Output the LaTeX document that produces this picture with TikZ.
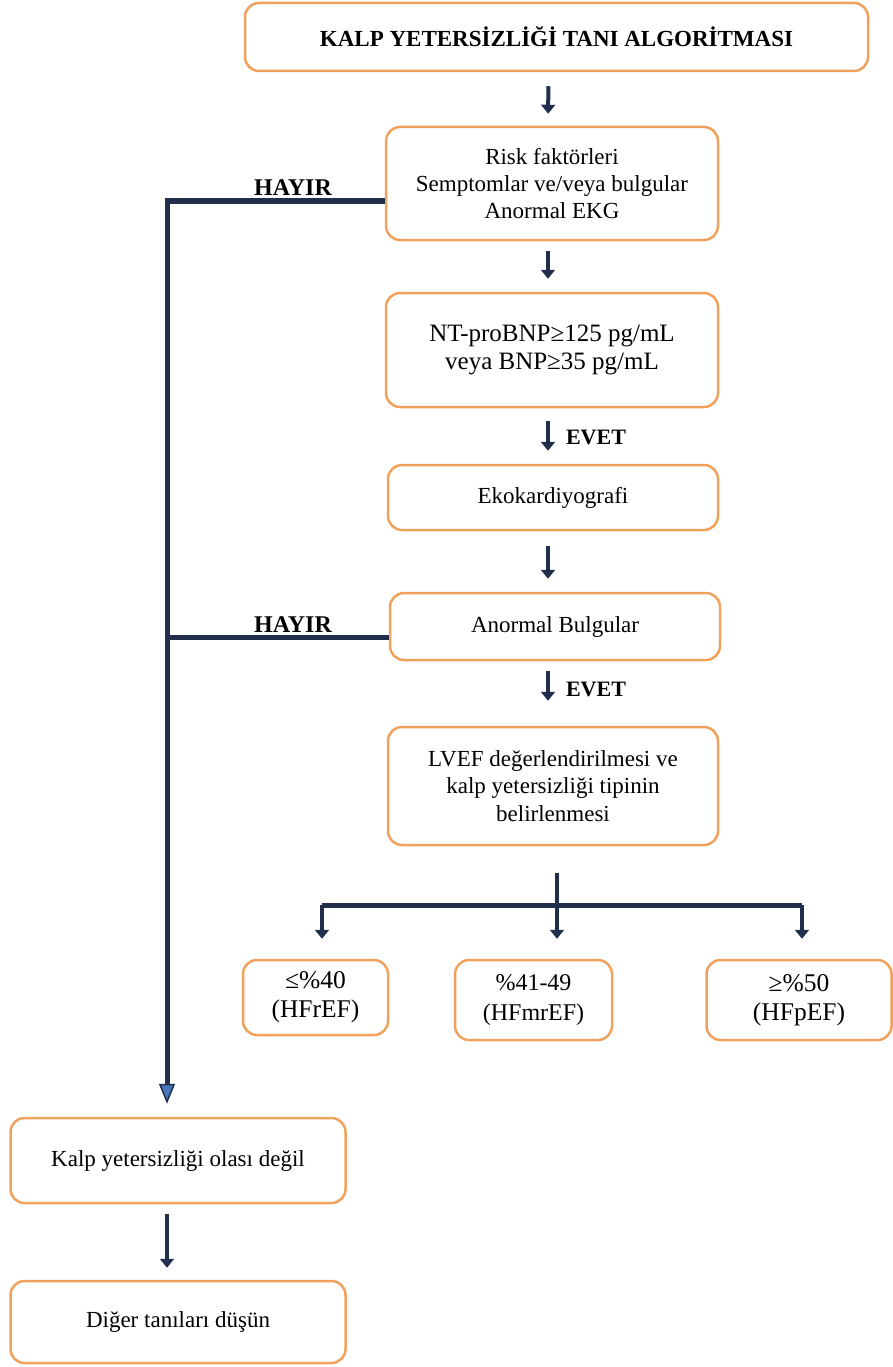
\documentclass[tikz,border=0pt]{standalone}
\usepackage{fontspec}
\setmainfont{Liberation Serif}
\usetikzlibrary{arrows.meta}
\definecolor{orng}{RGB}{240,162,92}
\definecolor{navy}{RGB}{33,47,77}
\definecolor{steel}{RGB}{70,120,185}
\begin{document}
\begin{tikzpicture}[x=1pt,y=-1pt,
  box/.style={draw=orng, line width=2.5pt, rounded corners=14pt, fill=white, align=center, inner sep=0pt, font=\fontsize{23}{27}\selectfont},
  bigtext/.style={font=\fontsize{25.5}{29}\selectfont},
  arr/.style={draw=navy, line width=4pt, -{Triangle[length=9pt,width=14pt]}},
  trunk/.style={draw=navy, line width=5pt},
  lbl/.style={font=\bfseries\fontsize{22}{24}\selectfont, inner sep=0pt}]
\useasboundingbox (0,0) rectangle (893,1367);
\node[box, minimum width=623pt, minimum height=68pt, font=\bfseries\fontsize{23}{26}\selectfont] (n1) at (556.5,37) {KALP YETERSİZLİĞİ TANI ALGORİTMASI};
\node[box, minimum width=332pt, minimum height=113pt] (n2) at (552,183.5) {Risk faktörleri\\Semptomlar ve/veya bulgular\\Anormal EKG};
\node[box, bigtext, minimum width=332pt, minimum height=114pt, font=\fontsize{25}{28}\selectfont] (n3) at (552,350) {NT-proBNP≥125 pg/mL\\veya BNP≥35 pg/mL};
\node[box, minimum width=330pt, minimum height=65pt] (n4) at (553,497.5) {Ekokardiyografi};
\node[box, minimum width=330pt, minimum height=67pt] (n5) at (555,626.5) {Anormal Bulgular};
\node[box, minimum width=330pt, minimum height=118pt, font=\fontsize{23}{27.5}\selectfont] (n6) at (553,786) {LVEF değerlendirilmesi ve\\kalp yetersizliği tipinin\\belirlenmesi};
\node[box, bigtext, minimum width=145pt, minimum height=75pt] (n7) at (315.5,997.5) {≤\%40\\(HFrEF)};
\node[box, minimum width=157pt, minimum height=80pt, font=\fontsize{24}{30}\selectfont] (n8) at (533.5,1000) {\%41-49\\(HFmrEF)};
\node[box, bigtext, minimum width=185pt, minimum height=80pt] (n9) at (799,1000) {≥\%50\\(HFpEF)};
\node[box, minimum width=335pt, minimum height=85pt] (n10) at (178,1160.5) {Kalp yetersizliği olası değil};
\node[box, minimum width=335pt, minimum height=82pt] (n11) at (178,1322) {Diğer tanıları düşün};
% labels
\node[lbl, font=\bfseries\fontsize{24}{26}\selectfont] (h1) at (293,188) {HAYIR};
\node[lbl, font=\bfseries\fontsize{24}{26}\selectfont] (h2) at (293,625) {HAYIR};
\node[lbl] (e1) at (596,437) {EVET};
\node[lbl] (e2) at (596,689) {EVET};
% vertical arrows
\draw[arr, shorten <=14pt, shorten >=12pt] ([xshift=-8pt]n1.south) -- ([xshift=-4pt]n2.north);
\draw[arr, shorten <=10pt, shorten >=13pt] ([xshift=-4pt]n2.south) -- ([xshift=-4pt]n3.north);
\draw[arr, shorten <=13pt, shorten >=13pt] ([xshift=-4pt]n3.south) -- ([xshift=-5pt]n4.north);
\draw[arr, shorten <=15pt, shorten >=13pt] ([xshift=-5pt]n4.south) -- ([xshift=-7pt]n5.north);
\draw[arr, shorten <=10pt, shorten >=25pt] ([xshift=-7pt]n5.south) -- ([xshift=-5pt]n6.north);
\draw[arr, shorten <=10pt, shorten >=12pt] (n10.south -| 167,0) -- (n11.north -| 167,0);
% branch
\coordinate (bt) at (557,873);
\coordinate (bl) at (322,905);
\coordinate (br) at (802,905);
\draw[trunk] (bl) -- (br);
\draw[arr, shorten >=20pt] (bt) -- (bt |- n8.north);
\draw[arr, shorten >=20pt] (bl) -- (bl |- n7.north);
\draw[arr, shorten >=20pt] (br) -- (br |- n9.north);
% left trunk
\coordinate (t1) at (167,201);
\draw[trunk] ([yshift=-17.5pt]n2.west) -- (t1);
\draw[trunk] ([yshift=-10.5pt]n5.west) -- (t1 |- 0,637);
\draw[trunk, -{Triangle[length=20pt,width=16pt,fill=steel,line width=1.5pt]}, shorten >=13pt] ([yshift=2.5pt]t1) -- (t1 |- n10.north);
\end{tikzpicture}
\end{document}
